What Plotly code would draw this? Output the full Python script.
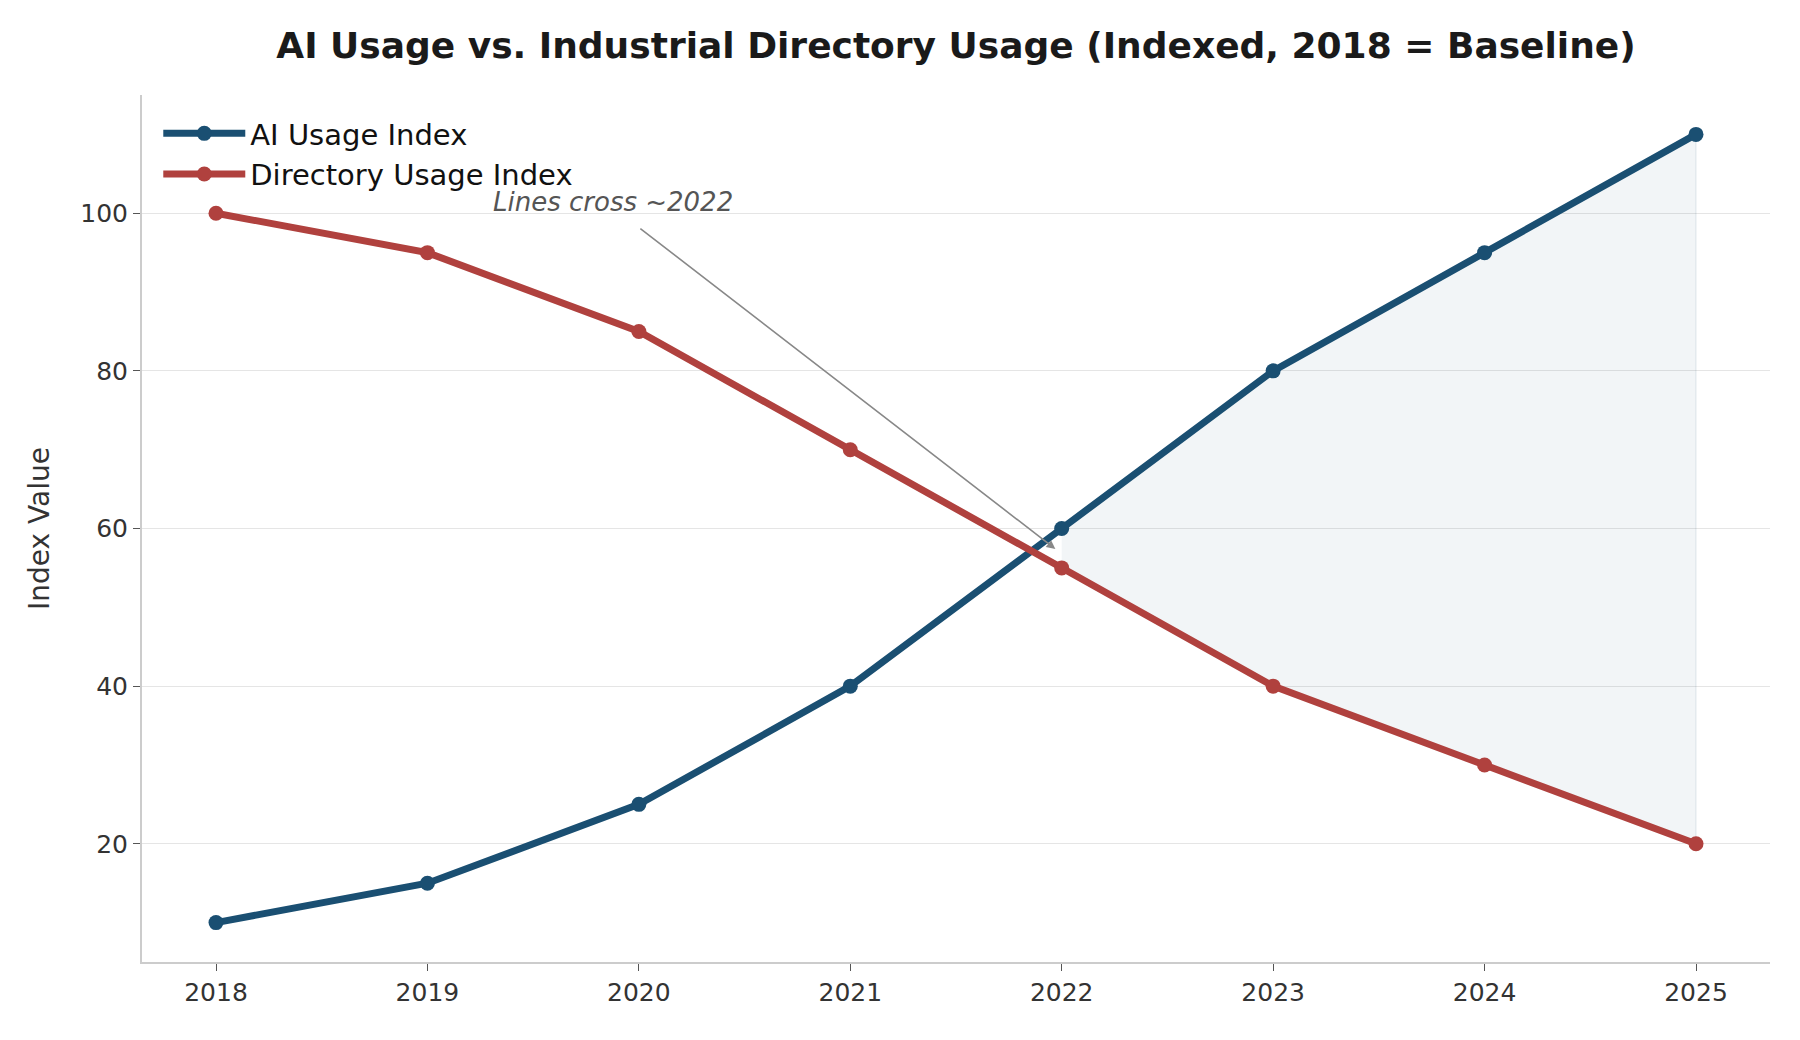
import plotly.graph_objects as go

years = [2018, 2019, 2020, 2021, 2022, 2023, 2024, 2025]
ai_usage = [10, 15, 25, 40, 60, 80, 95, 110]
directory_usage = [100, 95, 85, 70, 55, 40, 30, 20]
y_ticks = [20, 40, 60, 80, 100]
cross_year = 2022

AI_COLOR = "#1a4f72"
DIR_COLOR = "#b0413e"
FONT = "DejaVu Sans"

# fill region between the lines from the crossing year onwards
fill_x = [y for y in years if y >= cross_year]
fill_ai = [a for y, a in zip(years, ai_usage) if y >= cross_year]
fill_dir = [d for y, d in zip(years, directory_usage) if y >= cross_year]
poly_x = fill_x + fill_x[::-1]
poly_y = fill_ai + fill_dir[::-1]

fig = go.Figure()
fig.add_trace(go.Scatter(
    x=poly_x, y=poly_y, fill="toself", mode="lines",
    fillcolor="rgba(26,79,114,0.06)",
    line=dict(color="rgba(26,79,114,0.08)", width=1.5),
    showlegend=False, hoverinfo="skip",
))
fig.add_trace(go.Scatter(
    x=years, y=ai_usage, mode="lines+markers", name="AI Usage Index",
    line=dict(color=AI_COLOR, width=7),
    marker=dict(color=AI_COLOR, size=15),
))
fig.add_trace(go.Scatter(
    x=years, y=directory_usage, mode="lines+markers", name="Directory Usage Index",
    line=dict(color=DIR_COLOR, width=7),
    marker=dict(color=DIR_COLOR, size=15),
))

# arrow
fig.add_annotation(
    x=2021.97, y=57.4, ax=2020.0, ay=98.2, xref="x", yref="y", axref="x", ayref="y",
    text="", showarrow=True, arrowhead=2, arrowsize=1.1, arrowwidth=1.6,
    arrowcolor="#888888", standoff=0,
)
fig.add_annotation(
    x=2019.3, y=101.4, xref="x", yref="y", text="<i>Lines cross ~2022</i>",
    showarrow=False, xanchor="left", yanchor="middle",
    font=dict(family=FONT, size=26, color="#555555"),
)

fig.update_layout(
    width=1800, height=1040,
    paper_bgcolor="white", plot_bgcolor="white",
    margin=dict(l=142, r=30, t=95, b=78),
    font=dict(family=FONT, color="#333333"),
    title=dict(
        text="<b>AI Usage vs. Industrial Directory Usage (Indexed, 2018 = Baseline)</b>",
        x=(142 + 1770) / 2 / 1800, xanchor="center",
        y=1 - 45 / 1040, yanchor="middle", yref="container",
        font=dict(family=FONT, size=36, color="#1a1a1a"),
    ),
    legend=dict(
        x=0.01, y=0.985, xanchor="left", yanchor="top",
        bgcolor="rgba(255,255,255,0)", borderwidth=0,
        font=dict(family=FONT, size=29, color="#111111"),
        itemwidth=82,
    ),
    showlegend=True,
)
fig.update_xaxes(
    range=[2017.65, 2025.35], tickmode="array", tickvals=years,
    ticktext=[str(y) for y in years],
    showgrid=False, zeroline=False,
    showline=True, linecolor="#cccccc", linewidth=2,
    ticks="outside", ticklen=7, tickwidth=1.2, tickcolor="#555555",
    tickfont=dict(family=FONT, size=25, color="#333333"),
)
fig.update_yaxes(
    range=[5, 115], tickmode="array", tickvals=y_ticks,
    showgrid=True, gridcolor="#e5e5e5", gridwidth=1.2, zeroline=False,
    showline=True, linecolor="#cccccc", linewidth=2,
    ticks="outside", ticklen=7, tickwidth=1.2, tickcolor="#555555",
    tickfont=dict(family=FONT, size=25, color="#333333"),
    title=dict(text="Index Value", standoff=22,
               font=dict(family=FONT, size=28, color="#333333")),
)

fig.write_html("out.html")
